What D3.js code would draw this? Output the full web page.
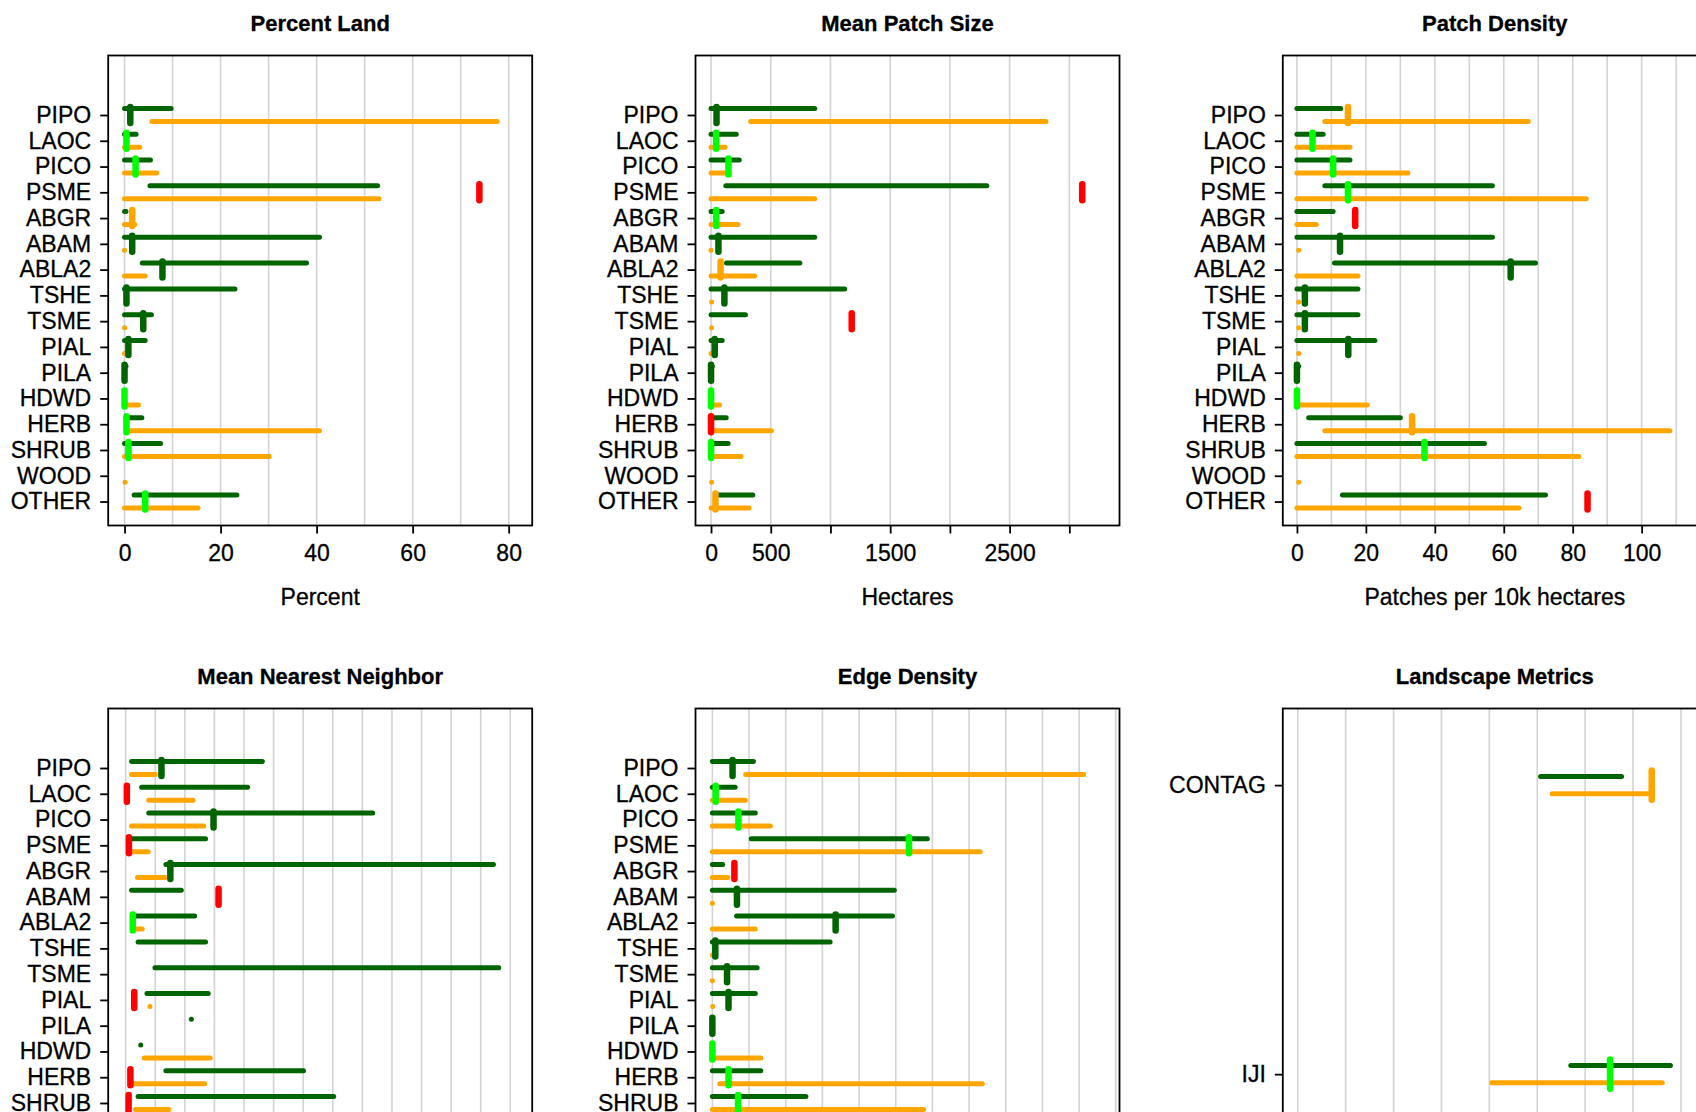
<!DOCTYPE html>
<html>
<head>
<meta charset="utf-8">
<script src="https://cdn.jsdelivr.net/npm/d3@7"></script>
<style>
  html, body { margin: 0; padding: 0; background: #fff; overflow: hidden; }
  svg { display: block; }
  text { font-family: "Liberation Sans", Arial, sans-serif; fill: #000; stroke: #000; stroke-width: 0.3px; }
</style>
</head>
<body>
<svg id="chart" width="1696" height="1112"></svg>
<script>
// ---- categories ----
const speciesCodes = ["PIPO", "LAOC", "PICO", "PSME", "ABGR", "ABAM", "ABLA2", "TSHE",
                      "TSME", "PIAL", "PILA", "HDWD", "HERB", "SHRUB", "WOOD", "OTHER"];
const landscapeCodes = ["CONTAG", "IJI"];

// status of the current value: inside both ranges, historic only, future only, outside both
const statusColors = { both: "#00ff00", hist: "#006400", fut: "#ffa500", out: "#ff0000" };

// ---- Percent Land ----
const pctLandHist = [[0, 9.7], [0, 2.4], [0, 5.4], [5.3, 52.7], [0, 0.3], [0, 40.6], [3.7, 37.9], [0, 23.0],
                     [0, 5.6], [0, 4.3], [0, 0.3], [0, 0], [0.3, 3.6], [0, 7.5], null, [2.0, 23.4]];
const pctLandFut  = [[5.7, 77.6], [0, 3.2], [0, 6.7], [0, 53.0], [0, 2.1], [0, 0], [0, 4.3], null,
                     [0, 0], [0, 0], null, [0.4, 2.9], [0.9, 40.6], [0, 30.1], [0.1, 0.1], [0, 15.3]];
const pctLandNow  = [1.2, 0.4, 2.3, 73.9, 1.6, 1.6, 7.9, 0.4, 3.9, 0.8, 0, 0, 0.4, 0.8, null, 4.3];
const pctLandStatus = ["hist", "both", "both", "out", "fut", "hist", "hist", "hist",
                       "hist", "hist", "hist", "both", "both", "both", null, "both"];
const pctLandTicks = [0, 20, 40, 60, 80];
const pctLandTickLabels = [0, 20, 40, 60, 80];

// ---- Mean Patch Size ----
const patchSizeHist = [[0, 868], [0, 211], [0, 236], [124, 2309], [0, 93], [0, 868], [130, 744], [0, 1119],
                       [0, 288], [0, 93], [0, 10], [0, 0], [15, 127], [15, 143], null, [53, 350]];
const patchSizeFut  = [[332, 2804], [0, 118], [0, 140], [0, 868], [0, 226], [0, 0], [0, 366], [5, 5],
                       [5, 5], [0, 0], null, [15, 71], [15, 505], [15, 251], [5, 5], [0, 319]];
const patchSizeNow  = [46, 43, 146, 3108, 43, 62, 80, 112, 1178, 31, 0, 0, 0, 0, null, 37];
const patchSizeStatus = ["hist", "both", "both", "out", "both", "hist", "fut", "hist",
                         "out", "hist", "hist", "both", "out", "both", null, "fut"];
const patchSizeTicks = [0, 500, 1000, 1500, 2000, 2500, 3000];
const patchSizeTickLabels = [0, 500, 1500, 2500];

// ---- Patch Density ----
const patchDensHist = [[0, 12.7], [0, 7.6], [0, 15.4], [8.1, 56.7], [0, 10.5], [0, 56.7], [10.9, 69.2], [0, 17.7],
                       [0, 17.7], [0, 22.6], [0, 0.5], [0, 0], [3.4, 30.0], [0, 54.4], null, [13.2, 72.1]];
const patchDensFut  = [[8.1, 67.1], [0, 15.4], [0, 32.2], [0, 83.9], [0, 5.6], [0.5, 0.5], [0, 17.7], [0.5, 0.5],
                       [0.5, 0.5], [0.5, 0.5], null, [0, 20.4], [8.1, 108.2], [0, 81.8], [0.5, 0.5], [0, 64.4]];
const patchDensNow  = [14.8, 4.5, 10.5, 14.8, 16.9, 12.5, 62, 2.3, 2.3, 14.9, 0, 0, 33.4, 37, null, 84.3];
const patchDensStatus = ["fut", "both", "both", "both", "out", "hist", "hist", "hist",
                         "hist", "hist", "hist", "both", "fut", "both", null, "out"];
const patchDensTicks = [0, 20, 40, 60, 80, 100];
const patchDensTickLabels = [0, 20, 40, 60, 80, 100];

// ---- Mean Nearest Neighbor ----
const nearNbrHist = [[20, 462], [54, 412], [78, 835], [20, 270], [136, 1243], [20, 188], [24, 233], [42, 270],
                     [99, 1261], [72, 279], [222, 222], [51, 51], [136, 601], [42, 703], null, null];
const nearNbrFut  = [[20, 100], [78, 228], [20, 264], [20, 76], [40, 134], null, [24, 56], null,
                     null, [82, 82], null, [63, 286], [20, 267], [33, 146], null, null];
const nearNbrNow  = [121, 4, 297, 11, 151, 314, 24, null, null, 29, null, null, 16, 10, null, null];
const nearNbrStatus = ["hist", "out", "hist", "out", "hist", "out", "both", null,
                       null, "out", null, null, "out", "out", null, null];

// ---- Edge Density ----
const edgeDensHist = [[0, 11.2], [0, 6.2], [0, 11.7], [10.6, 58.6], [0, 2.8], [0, 49.6], [6.6, 49.1], [0, 32.1],
                      [0, 12.2], [0, 11.7], [0, 0], [0, 0], [0, 13.2], [0, 25.5], null, null];
const edgeDensFut  = [[9.1, 101.2], [0, 9.0], [0, 15.8], [0, 73.0], [0, 4.2], [0, 0], [0, 11.7], [0, 0],
                      [0, 0], [0.1, 0.1], null, [0.5, 13.2], [2.0, 73.6], [0, 57.6], null, null];
const edgeDensNow  = [5.5, 0.9, 7.1, 53.6, 6.0, 6.7, 33.6, 0.8, 4.0, 4.4, 0, 0, 4.4, 7.0, null, null];
const edgeDensStatus = ["hist", "both", "both", "both", "out", "hist", "hist", "hist",
                        "hist", "hist", "hist", "both", "both", "both", null, null];

// ---- Landscape Metrics ----
const landHist = [[50.7, 67.6], [57.0, 77.8]];
const landFut  = [[53.1, 73.8], [40.5, 76.1]];
const landNow  = [73.9, 65.2];
const landStatus = ["fut", "both"];

// ---- panel layout ----
const boxLeft = [108.2, 695.5, 1282.8];
const boxTop = [55.5, 708.5];
const boxW = 424, boxH = 470;

const speciesY = { domain: [-2.309, 15.93], offset: 6.5, markHalf: 8 };
const landscapeY = { domain: [-0.265, 1.361], offset: 8.6, markHalf: 14.7 };

const panels = [
  { title: "Percent Land", xlabel: "Percent", col: 0, row: 0, cats: speciesCodes, yc: speciesY,
    hist: pctLandHist, fut: pctLandFut, now: pctLandNow, status: pctLandStatus,
    domain: [-3.4, 84.9], grid: d3.range(0, 81, 10), ticks: pctLandTicks, labels: pctLandTickLabels },
  { title: "Mean Patch Size", xlabel: "Hectares", col: 1, row: 0, cats: speciesCodes, yc: speciesY,
    hist: patchSizeHist, fut: patchSizeFut, now: patchSizeNow, status: patchSizeStatus,
    domain: [-130, 3420], grid: d3.range(0, 3001, 500), ticks: patchSizeTicks, labels: patchSizeTickLabels },
  { title: "Patch Density", xlabel: "Patches per 10k hectares", col: 2, row: 0, cats: speciesCodes, yc: speciesY,
    hist: patchDensHist, fut: patchDensFut, now: patchDensNow, status: patchDensStatus,
    domain: [-4.1, 118.9], grid: d3.range(0, 111, 10), ticks: patchDensTicks, labels: patchDensTickLabels },
  { title: "Mean Nearest Neighbor", xlabel: "", col: 0, row: 1, cats: speciesCodes, yc: speciesY,
    hist: nearNbrHist, fut: nearNbrFut, now: nearNbrNow, status: nearNbrStatus,
    domain: [-59, 1374], grid: d3.range(0, 1301, 100), ticks: [], labels: [] },
  { title: "Edge Density", xlabel: "", col: 1, row: 1, cats: speciesCodes, yc: speciesY,
    hist: edgeDensHist, fut: edgeDensFut, now: edgeDensNow, status: edgeDensStatus,
    domain: [-4.6, 111], grid: d3.range(0, 111, 10), ticks: [], labels: [] },
  { title: "Landscape Metrics", xlabel: "", col: 2, row: 1, cats: landscapeCodes, yc: landscapeY,
    hist: landHist, fut: landFut, now: landNow, status: landStatus,
    domain: [-3.13, 85.4], grid: d3.range(0, 81, 10), ticks: [], labels: [] }
];

const svg = d3.select("#chart");

function drawPanel(p) {
  const g = svg.append("g")
    .attr("transform", `translate(${boxLeft[p.col]},${boxTop[p.row]})`);
  const x = d3.scaleLinear().domain(p.domain).range([0, boxW]);
  const y = d3.scaleLinear().domain(p.yc.domain).range([0, boxH]);

  // vertical reference grid
  g.append("g").selectAll("line").data(p.grid).join("line")
    .attr("x1", d => x(d)).attr("x2", d => x(d))
    .attr("y1", 0).attr("y2", boxH)
    .attr("stroke", "#d3d3d3").attr("stroke-width", 1.6);

  const rows = p.cats.map((c, i) => ({ i, hist: p.hist[i], fut: p.fut[i], now: p.now[i], status: p.status[i] }));

  // historic range (upper) and future range (lower)
  const rangeLayer = (key, color, dy) =>
    g.append("g").selectAll("line").data(rows.filter(r => r[key])).join("line")
      .attr("x1", r => x(r[key][0]))
      .attr("x2", r => x(r[key][1]) + 0.01)
      .attr("y1", r => y(r.i) + dy).attr("y2", r => y(r.i) + dy)
      .attr("stroke", color).attr("stroke-width", 5).attr("stroke-linecap", "round");
  rangeLayer("hist", "#006400", -p.yc.offset);
  rangeLayer("fut", "#ffa500", p.yc.offset);

  // current value marks
  g.append("g").selectAll("line").data(rows.filter(r => r.now != null && r.status)).join("line")
    .attr("x1", r => x(r.now)).attr("x2", r => x(r.now))
    .attr("y1", r => y(r.i) - p.yc.markHalf).attr("y2", r => y(r.i) + p.yc.markHalf)
    .attr("stroke", r => statusColors[r.status])
    .attr("stroke-width", 6.5).attr("stroke-linecap", "round");

  // frame
  g.append("rect").attr("x", 0).attr("y", 0).attr("width", boxW).attr("height", boxH)
    .attr("fill", "none").attr("stroke", "#000").attr("stroke-width", 1.8);

  // category axis
  const yAxis = g.append("g")
    .call(d3.axisLeft(y).tickValues(p.cats.map((c, i) => i)).tickFormat(i => p.cats[i])
      .tickSize(8).tickPadding(9));
  yAxis.select(".domain").remove();
  yAxis.selectAll(".tick line").attr("stroke", "#000").attr("stroke-width", 1.8);
  yAxis.selectAll(".tick text").attr("font-size", 23).attr("fill", "#000")
    .style("font-family", '"Liberation Sans", Arial, sans-serif');

  // value axis
  if (p.ticks.length) {
    const xAxis = g.append("g").attr("transform", `translate(0,${boxH})`)
      .call(d3.axisBottom(x).tickValues(p.ticks)
        .tickFormat(d => p.labels.includes(d) ? d : "")
        .tickSize(8).tickPadding(11));
    xAxis.select(".domain").remove();
    xAxis.selectAll(".tick line").attr("stroke", "#000").attr("stroke-width", 1.8);
    xAxis.selectAll(".tick text").attr("font-size", 23).attr("fill", "#000")
      .style("font-family", '"Liberation Sans", Arial, sans-serif');
  }
  if (p.xlabel) {
    g.append("text").attr("x", boxW / 2).attr("y", boxH + 79.5)
      .attr("text-anchor", "middle").attr("font-size", 23).text(p.xlabel);
  }

  // title
  g.append("text").attr("x", boxW / 2).attr("y", -25)
    .attr("text-anchor", "middle").attr("font-size", 22).attr("font-weight", "bold")
    .text(p.title);
}

panels.forEach(drawPanel);
</script>
</body>
</html>
